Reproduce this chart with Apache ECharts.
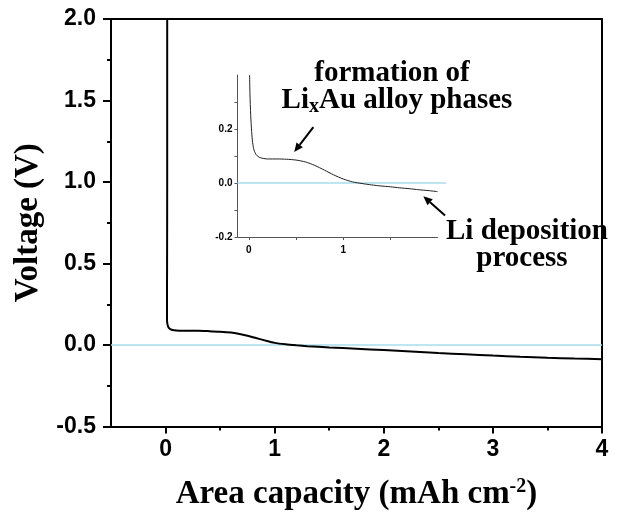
<!DOCTYPE html>
<html>
<head>
<meta charset="utf-8">
<script src="https://cdn.jsdelivr.net/npm/echarts@6/dist/echarts.min.js"></script>
<style>
  html, body { margin: 0; padding: 0; background: #fff; }
  #chart { width: 626px; height: 518px; }
</style>
</head>
<body>
<div id="chart"></div>
<script>
// Li plating on Au-coated substrate: voltage vs areal capacity
const capacity = [0.015, 0.015, 0.014, 0.013, 0.013, 0.018, 0.03, 0.05, 0.08, 0.13, 0.2, 0.3, 0.4, 0.5, 0.6, 0.7, 0.8, 0.9, 1.0, 1.1, 1.2, 1.3, 1.5, 1.75, 2.0, 2.25, 2.5, 2.75, 3.0, 3.25, 3.5, 3.75, 4.0];
const voltage = [2.0, 1.0, 0.5, 0.25, 0.16, 0.125, 0.105, 0.095, 0.09, 0.088, 0.087, 0.087, 0.085, 0.082, 0.076, 0.064, 0.048, 0.03, 0.013, 0.004, -0.002, -0.007, -0.015, -0.023, -0.031, -0.04, -0.049, -0.057, -0.065, -0.072, -0.078, -0.083, -0.087];

// Zoomed view of the first 2 mAh cm-2
const insetCapacity = [0.008, 0.012, 0.02, 0.03, 0.04, 0.055, 0.08, 0.12, 0.2, 0.3, 0.4, 0.5, 0.6, 0.7, 0.8, 0.9, 1.0, 1.1, 1.2, 1.3, 1.4, 1.5, 1.6, 1.7, 1.8, 1.9, 2.0];
const insetVoltage = [0.4, 0.33, 0.25, 0.19, 0.15, 0.122, 0.104, 0.094, 0.089, 0.089, 0.088, 0.085, 0.078, 0.065, 0.048, 0.03, 0.015, 0.004, -0.002, -0.007, -0.011, -0.014, -0.018, -0.021, -0.025, -0.028, -0.032];

// Zero-volt reference lines
const zeroLineMain = [[-0.5, 0], [4, 0]];
const zeroLineInset = [[-0.12, 0], [2.09, 0]];

// Tick positions
const mainXLabels = [0, 1, 2, 3, 4];
const mainXMinor = [0.5, 1.5, 2.5, 3.5];
const insetXTicks = [0, 0.5, 1, 1.5];
const insetXLabels = [0, 1];
const insetYTicks = [-0.2, -0.1, 0, 0.1, 0.2, 0.3];
const insetYLabels = [-0.2, 0, 0.2];

// Annotation arrows, in inset data coordinates: [tail, head]
const arrowAlloy = [[0.684, 0.207], [0.481, 0.115]];
const arrowDeposit = [[2.08, -0.12], [1.85, -0.049]];

const serif = '"Liberation Serif", "Times New Roman", serif';
const sans = '"Liberation Sans", Arial, sans-serif';

const toPairs = (xs, ys) => xs.map((x, i) => [x, ys[i]]);

// Inset frame: the zero line runs a little past the inset x axis,
// so it gets its own wider, hidden axes at the same scale.
const insetLeft = 237.5, insetTop = 75, insetW = 200, insetH = 162;
const insetXMin = -0.12, insetXMax = 2;
const insetPxPerUnit = insetW / (insetXMax - insetXMin);
const zeroGridW = 212;

const frameLine = { show: true, onZero: false, lineStyle: { color: '#000', width: 2 } };

const chart = echarts.init(document.getElementById('chart'), null, { renderer: 'canvas' });

chart.setOption({
  backgroundColor: '#fff',
  animation: false,
  grid: [
    { left: 111, top: 19, width: 491, height: 407.5, containLabel: false, outerBoundsMode: 'none' },
    { left: insetLeft, top: insetTop, width: insetW, height: insetH, containLabel: false, outerBoundsMode: 'none' },
    { left: insetLeft, top: insetTop, width: zeroGridW, height: insetH, containLabel: false, outerBoundsMode: 'none' }
  ],
  xAxis: [
    {
      type: 'value', gridIndex: 0, min: -0.5, max: 4,
      name: '{a|Area capacity (mAh cm}{s|-2}{a|)}',
      nameLocation: 'middle', nameGap: 50,
      nameTextStyle: {
        rich: {
          a: { fontFamily: serif, fontWeight: 'bold', fontSize: 33, color: '#000' },
          s: { fontFamily: serif, fontWeight: 'bold', fontSize: 20, color: '#000', verticalAlign: 'top', padding: [0, 0, 16, 0] }
        }
      },
      axisLine: frameLine,
      axisTick: { show: true, inside: false, length: 7, customValues: mainXLabels, lineStyle: { color: '#000', width: 2 } },
      axisLabel: { customValues: mainXLabels, fontFamily: sans, fontWeight: 'bold', fontSize: 23, color: '#000', margin: 12 },
      splitLine: { show: false }
    },
    {
      type: 'value', gridIndex: 0, min: -0.5, max: 4, position: 'bottom',
      axisLine: { show: false, onZero: false },
      axisTick: { show: true, inside: false, length: 4, customValues: mainXMinor, lineStyle: { color: '#000', width: 2 } },
      axisLabel: { show: false },
      splitLine: { show: false }
    },
    {
      type: 'value', gridIndex: 1, min: insetXMin, max: insetXMax,
      axisLine: { show: true, onZero: false, lineStyle: { color: '#555', width: 1 } },
      axisTick: { show: true, inside: false, length: 3, customValues: insetXTicks, lineStyle: { color: '#555', width: 1 } },
      axisLabel: { customValues: insetXLabels, fontFamily: sans, fontWeight: 'bold', fontSize: 10, color: '#000', margin: 8 },
      splitLine: { show: false }
    },
    {
      type: 'value', gridIndex: 2, min: insetXMin, max: insetXMin + zeroGridW / insetPxPerUnit, show: false
    },
    {
      // top edge of the main frame
      type: 'value', gridIndex: 0, min: -0.5, max: 4, position: 'top',
      axisLine: frameLine, axisTick: { show: false }, axisLabel: { show: false }, splitLine: { show: false }
    }
  ],
  yAxis: [
    {
      type: 'value', gridIndex: 0, min: -0.5, max: 2, interval: 0.5,
      name: 'Voltage (V)', nameLocation: 'middle', nameGap: 63,
      nameTextStyle: { fontFamily: serif, fontWeight: 'bold', fontSize: 33, color: '#000' },
      axisLine: frameLine,
      axisTick: { show: true, inside: false, length: 8, lineStyle: { color: '#000', width: 2 } },
      minorTick: { show: true, splitNumber: 2, length: 4, lineStyle: { color: '#000', width: 2 } },
      axisLabel: { formatter: v => v.toFixed(1), fontFamily: sans, fontWeight: 'bold', fontSize: 23, color: '#000', margin: 15 },
      splitLine: { show: false }
    },
    {
      type: 'value', gridIndex: 1, min: -0.2, max: 0.4,
      axisLine: { show: true, onZero: false, lineStyle: { color: '#555', width: 1 } },
      axisTick: { show: true, inside: false, length: 3, customValues: insetYTicks, lineStyle: { color: '#555', width: 1 } },
      axisLabel: { customValues: insetYLabels, formatter: v => v.toFixed(1), fontFamily: sans, fontWeight: 'bold', fontSize: 10, color: '#000', margin: 5 },
      splitLine: { show: false }
    },
    {
      type: 'value', gridIndex: 2, min: -0.2, max: 0.4, show: false
    },
    {
      // right edge of the main frame
      type: 'value', gridIndex: 0, min: -0.5, max: 2, position: 'right',
      axisLine: frameLine, axisTick: { show: false }, axisLabel: { show: false }, splitLine: { show: false }
    }
  ],
  series: [
    {
      type: 'line', xAxisIndex: 0, yAxisIndex: 0, data: zeroLineMain,
      showSymbol: false, silent: true, z: 1,
      lineStyle: { color: '#a8dceb', width: 1.5 }
    },
    {
      type: 'line', xAxisIndex: 0, yAxisIndex: 0, data: toPairs(capacity, voltage),
      showSymbol: false, smooth: 0.25, z: 3,
      lineStyle: { color: '#000', width: 2 }
    },
    {
      type: 'line', xAxisIndex: 3, yAxisIndex: 2, data: zeroLineInset,
      showSymbol: false, silent: true, z: 1,
      lineStyle: { color: '#a8dceb', width: 1.5 }
    },
    {
      type: 'line', xAxisIndex: 2, yAxisIndex: 1, data: toPairs(insetCapacity, insetVoltage),
      showSymbol: false, smooth: 0.25, z: 3,
      lineStyle: { color: '#222', width: 1 }
    }
  ]
});

// Arrow shaft plus a filled head, placed through the inset axes
function arrow(pair) {
  const a = chart.convertToPixel({ gridIndex: 1 }, pair[0]);
  const b = chart.convertToPixel({ gridIndex: 1 }, pair[1]);
  const dx = b[0] - a[0], dy = b[1] - a[1];
  const len = Math.hypot(dx, dy);
  const ux = dx / len, uy = dy / len;
  const headLen = 9, headHalf = 4;
  const bx = b[0] - ux * headLen, by = b[1] - uy * headLen;
  return [
    { type: 'line', shape: { x1: a[0], y1: a[1], x2: bx, y2: by }, style: { stroke: '#000', lineWidth: 2 }, z: 10 },
    { type: 'polygon', shape: { points: [[b[0], b[1]], [bx - uy * headHalf, by + ux * headHalf], [bx + uy * headHalf, by - ux * headHalf]] },
      style: { fill: '#000' }, z: 10 }
  ];
}

const noteFont = 'bold 29px ' + serif;
chart.setOption({
  graphic: [
    ...arrow(arrowAlloy),
    ...arrow(arrowDeposit),
    { type: 'text', x: 392, y: 74, z: 10, style: { text: 'formation of', font: noteFont, fill: '#000', align: 'center', verticalAlign: 'middle' } },
    { type: 'text', x: 397, y: 101, z: 10, style: {
        text: '{a|Li}{s|x}{a|Au alloy phases}', align: 'center', verticalAlign: 'middle',
        rich: {
          a: { font: noteFont, fill: '#000' },
          s: { font: 'bold 20px ' + serif, fill: '#000', verticalAlign: 'bottom', padding: [12, 0, 0, 0] }
        }
      } },
    { type: 'text', x: 527, y: 232, z: 10, style: { text: 'Li deposition', font: noteFont, fill: '#000', align: 'center', verticalAlign: 'middle' } },
    { type: 'text', x: 522, y: 259, z: 10, style: { text: 'process', font: noteFont, fill: '#000', align: 'center', verticalAlign: 'middle' } }
  ]
});
</script>
</body>
</html>
